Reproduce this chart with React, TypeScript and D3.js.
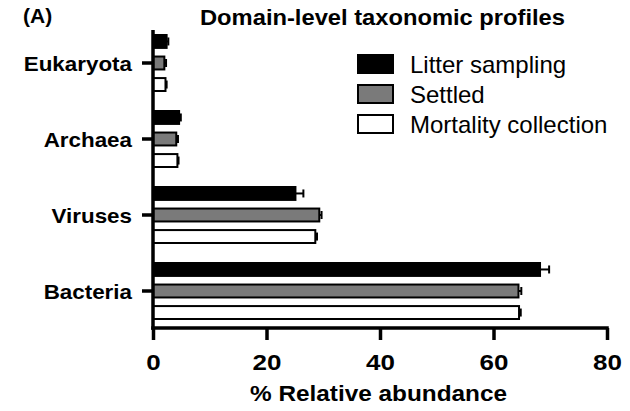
import React, { useEffect, useRef } from "react";
import { select, scaleLinear, scaleBand, axisBottom, axisLeft } from "d3";

const categories = ["Eukaryota", "Archaea", "Viruses", "Bacteria"];
const series = ["Litter sampling", "Settled", "Mortality collection"];
const litterValues = [2.4, 4.6, 25.1, 68.2];
const litterErrors = [0.3, 0.3, 1.4, 1.6];
const settledValues = [2.0, 4.1, 29.3, 64.4];
const settledErrors = [0.3, 0.3, 0.4, 0.5];
const mortalityValues = [2.2, 4.3, 28.6, 64.5];
const mortalityErrors = [0.2, 0.2, 0.3, 0.3];
const xTicks = [0, 20, 40, 60, 80];
const fills = ["#000000", "#7a7a7a", "#ffffff"];

const FONT = "'Liberation Sans', Arial, Helvetica, sans-serif";

const App = () => {
  const svgRef = useRef<SVGSVGElement>(null);

  useEffect(() => {
    const svg = select(svgRef.current);
    svg.selectAll("*").remove();

    const x = scaleLinear().domain([0, 80]).range([153, 607]);
    const y = scaleBand().domain(categories).range([25, 329]).padding(0);
    const inner = scaleBand().domain(series).range([10, 66]).paddingInner(0.4).paddingOuter(0);

    const valuesBySeries = [litterValues, settledValues, mortalityValues];
    const errorsBySeries = [litterErrors, settledErrors, mortalityErrors];
    const rows = series.flatMap((s, si) =>
      categories.map((c, ci) => ({
        s, c, si,
        value: valuesBySeries[si][ci],
        err: errorsBySeries[si][ci],
      }))
    );
    const mid = (d) => y(d.c)! + inner(d.s)! + inner.bandwidth() / 2;

    // error bars (drawn under bars so only the right whisker shows)
    const eb = svg.append("g").attr("stroke", "#000").attr("stroke-width", 2);
    eb.selectAll("line.whisker")
      .data(rows)
      .join("line")
      .attr("class", "whisker")
      .attr("x1", (d) => x(d.value))
      .attr("x2", (d) => x(d.value + d.err))
      .attr("y1", mid)
      .attr("y2", mid);
    eb.selectAll("line.cap")
      .data(rows)
      .join("line")
      .attr("class", "cap")
      .attr("x1", (d) => x(d.value + d.err))
      .attr("x2", (d) => x(d.value + d.err))
      .attr("y1", (d) => mid(d) - 4)
      .attr("y2", (d) => mid(d) + 4);

    svg.append("g")
      .selectAll("rect")
      .data(rows)
      .join("rect")
      .attr("x", x(0))
      .attr("y", (d) => y(d.c)! + inner(d.s)!)
      .attr("width", (d) => x(d.value) - x(0))
      .attr("height", inner.bandwidth())
      .attr("fill", (d) => fills[d.si])
      .attr("stroke", "#000")
      .attr("stroke-width", 2);

    // x axis
    const xAxis = axisBottom(x).tickValues(xTicks).tickSize(12).tickPadding(14).tickSizeOuter(0);
    const gx = svg.append("g").attr("transform", "translate(0,328)").call(xAxis);
    gx.select(".domain").attr("stroke-width", 3.5).attr("d", `M${x(0) - 1.75},0H${x(80) + 1.75}`);
    gx.selectAll(".tick line").attr("stroke-width", 3.5);
    gx.selectAll(".tick text")
      .attr("font-family", FONT)
      .attr("font-weight", "bold")
      .attr("font-size", 22)
      .attr("fill", "#000")
      .attr("transform", "scale(1.18,1)");

    // y axis
    const yAxis = axisLeft(y).tickSize(11).tickPadding(10).tickSizeOuter(0);
    const gy = svg.append("g").attr("transform", `translate(${x(0)},0)`).call(yAxis);
    gy.select(".domain").attr("stroke-width", 3.5).attr("d", "M0,30V329.75");
    gy.selectAll(".tick line").attr("stroke-width", 3.5);
    gy.selectAll(".tick text")
      .attr("font-family", FONT)
      .attr("font-weight", "bold")
      .attr("font-size", 20)
      .attr("fill", "#000")
      .attr("dy", "0.4em")
      .attr("transform", "scale(1.12,1)")
      .attr("x", -21 / 1.12);

    // titles
    svg.append("text")
      .attr("x", 23).attr("y", 23)
      .attr("font-family", FONT).attr("font-weight", "bold").attr("font-size", 21)
      .text("(A)");
    svg.append("text")
      .attr("x", 200).attr("y", 25)
      .attr("font-family", FONT).attr("font-weight", "bold").attr("font-size", 22)
      .attr("textLength", 365).attr("lengthAdjust", "spacingAndGlyphs")
      .text("Domain-level taxonomic profiles");
    svg.append("text")
      .attr("x", 250).attr("y", 401)
      .attr("font-family", FONT).attr("font-weight", "bold").attr("font-size", 22)
      .attr("textLength", 257).attr("lengthAdjust", "spacingAndGlyphs")
      .text("% Relative abundance");

    // legend
    const legend = svg.append("g").attr("transform", "translate(358,55)");
    const li = legend.selectAll("g").data(series).join("g")
      .attr("transform", (d, i) => `translate(0,${i * 30})`);
    li.append("rect")
      .attr("width", 35).attr("height", 18)
      .attr("fill", (d, i) => fills[i])
      .attr("stroke", "#000").attr("stroke-width", 2);
    li.append("text")
      .attr("x", 52).attr("y", 18)
      .attr("font-family", FONT).attr("font-size", 24)
      .text((d) => d);
  }, []);

  return (
    <svg
      ref={svgRef}
      width={630}
      height={411}
      style={{ position: "absolute", top: 0, left: 0, background: "#fff" }}
    />
  );
};

export default App;
